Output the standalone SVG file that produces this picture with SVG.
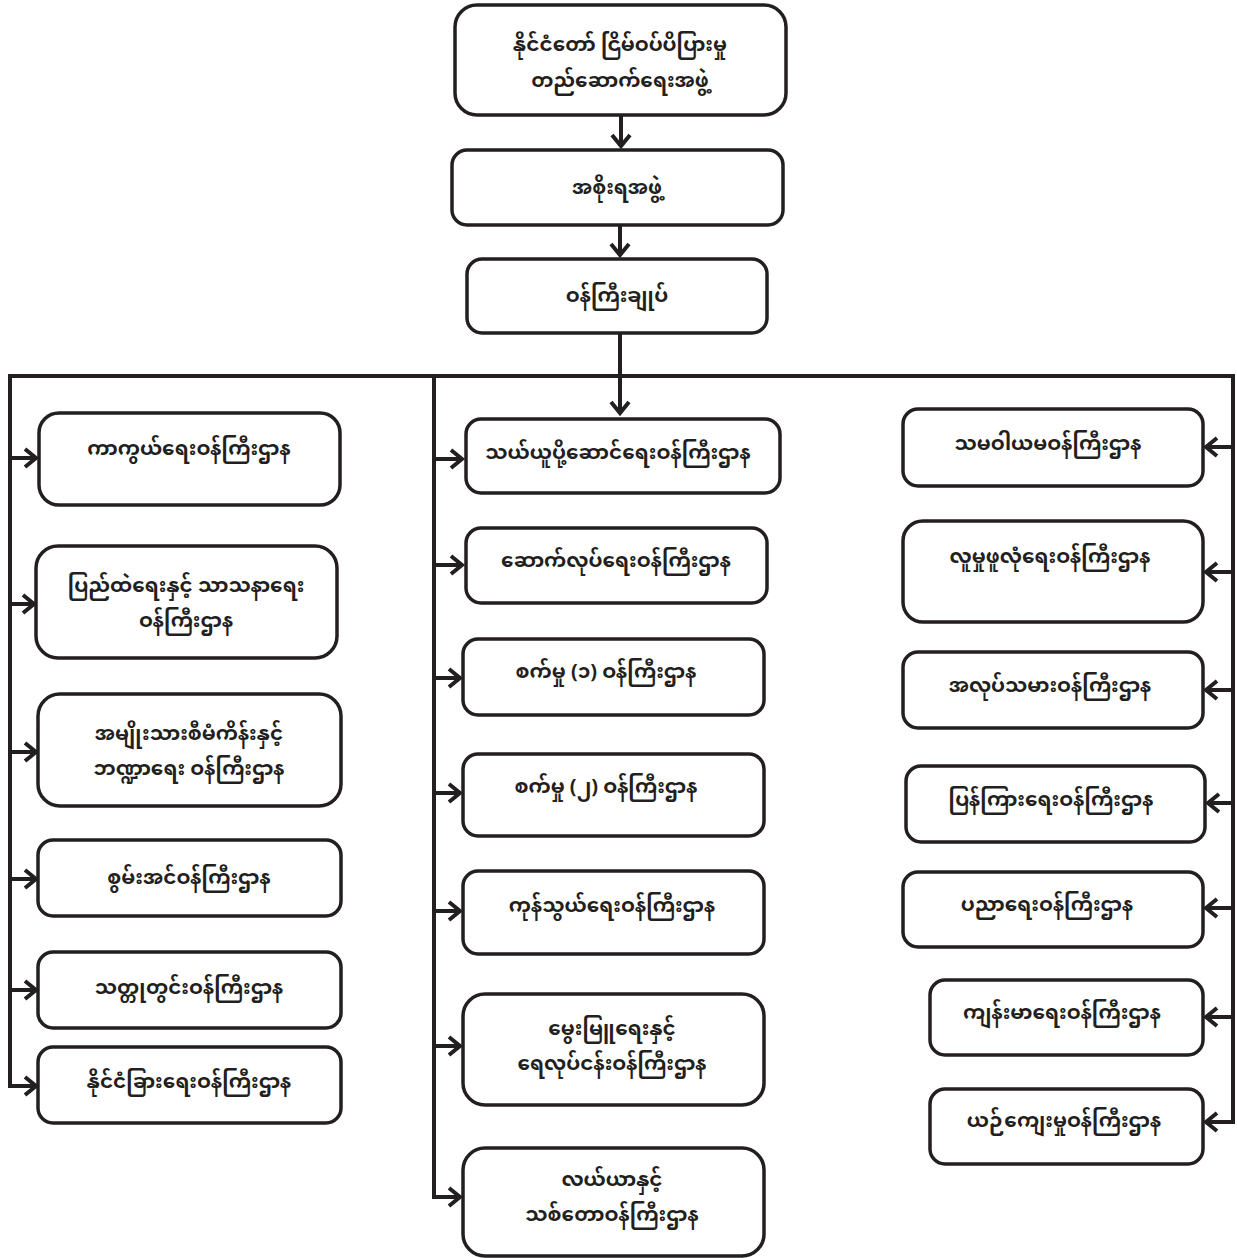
<svg xmlns="http://www.w3.org/2000/svg" width="1237" height="1258" viewBox="0 0 1237 1258">
<style>
.box{fill:#fff;stroke:#231f20;stroke-width:3.5}
.t{font-family:"Noto Sans Myanmar","Padauk","Myanmar Text","Noto Sans",sans-serif;font-size:20px;font-weight:bold;fill:#231f20;text-anchor:middle;dominant-baseline:central}
.c{fill:none;stroke:#231f20;stroke-width:4}
</style>
<defs>
<marker id="a" markerUnits="userSpaceOnUse" markerWidth="18" markerHeight="22" refX="13" refY="11" orient="auto">
<path d="M2,2 L13,11 L2,20" fill="none" stroke="#231f20" stroke-width="4"/>
</marker>
</defs>
<g id="connectors">
<path class="c" d="M621,115 V146" marker-end="url(#a)"/>
<path class="c" d="M620,225 V255" marker-end="url(#a)"/>
<path class="c" d="M620,333 V413" marker-end="url(#a)"/>
<path class="c" d="M10,376 H1233"/>
<path class="c" d="M10,374 V1088"/>
<path class="c" d="M434,374 V1199"/>
<path class="c" d="M1233,374 V1124"/>
<path class="c" d="M10,458 H36" marker-end="url(#a)"/>
<path class="c" d="M10,604 H34" marker-end="url(#a)"/>
<path class="c" d="M10,752 H36" marker-end="url(#a)"/>
<path class="c" d="M10,879 H36" marker-end="url(#a)"/>
<path class="c" d="M10,990 H36" marker-end="url(#a)"/>
<path class="c" d="M8,1086 H36" marker-end="url(#a)"/>
<path class="c" d="M434,459 H462" marker-end="url(#a)"/>
<path class="c" d="M434,565 H462" marker-end="url(#a)"/>
<path class="c" d="M434,678 H460" marker-end="url(#a)"/>
<path class="c" d="M434,793 H460" marker-end="url(#a)"/>
<path class="c" d="M434,911 H460" marker-end="url(#a)"/>
<path class="c" d="M434,1046 H460" marker-end="url(#a)"/>
<path class="c" d="M432,1197 H460" marker-end="url(#a)"/>
<path class="c" d="M1233,447 H1206" marker-end="url(#a)"/>
<path class="c" d="M1233,572 H1206" marker-end="url(#a)"/>
<path class="c" d="M1233,690 H1206" marker-end="url(#a)"/>
<path class="c" d="M1233,803 H1208" marker-end="url(#a)"/>
<path class="c" d="M1233,908 H1206" marker-end="url(#a)"/>
<path class="c" d="M1233,1017 H1206" marker-end="url(#a)"/>
<path class="c" d="M1235,1122 H1206" marker-end="url(#a)"/>
</g>
<g id="n_council"><rect class="box" x="455" y="5" width="331" height="110" rx="22"/><text class="t" x="620" y="46">နိုင်ငံတော် ငြိမ်ဝပ်ပိပြားမှု</text><text class="t" x="620" y="82">တည်ဆောက်ရေးအဖွဲ့</text></g>
<g id="n_gov"><rect class="box" x="452" y="150" width="331" height="75" rx="15"/><text class="t" x="617" y="189">အစိုးရအဖွဲ့</text></g>
<g id="n_pm"><rect class="box" x="467" y="259" width="300" height="74" rx="15"/><text class="t" x="617" y="297">ဝန်ကြီးချုပ်</text></g>

<g id="n_defence"><rect class="box" x="39" y="413" width="301" height="92" rx="20"/><text class="t" x="189" y="450">ကာကွယ်ရေးဝန်ကြီးဌာန</text></g>
<g id="n_home"><rect class="box" x="36" y="546" width="301" height="112" rx="22"/><text class="t" x="186" y="587">ပြည်ထဲရေးနှင့် သာသနာရေး</text><text class="t" x="186" y="622">ဝန်ကြီးဌာန</text></g>
<g id="n_planning"><rect class="box" x="38" y="694" width="303" height="112" rx="22"/><text class="t" x="189" y="735">အမျိုးသားစီမံကိန်းနှင့်</text><text class="t" x="189" y="770">ဘဏ္ဍာရေး ဝန်ကြီးဌာန</text></g>
<g id="n_energy"><rect class="box" x="38" y="840" width="303" height="76" rx="15"/><text class="t" x="189" y="879">စွမ်းအင်ဝန်ကြီးဌာန</text></g>
<g id="n_mines"><rect class="box" x="38" y="952" width="303" height="76" rx="15"/><text class="t" x="189" y="989">သတ္တုတွင်းဝန်ကြီးဌာန</text></g>
<g id="n_foreign"><rect class="box" x="38" y="1047" width="303" height="76" rx="15"/><text class="t" x="189" y="1083">နိုင်ငံခြားရေးဝန်ကြီးဌာန</text></g>

<g id="n_transport"><rect class="box" x="466" y="419" width="314" height="74" rx="15"/><text class="t" x="618" y="454">သယ်ယူပို့ဆောင်ရေးဝန်ကြီးဌာန</text></g>
<g id="n_construction"><rect class="box" x="466" y="528" width="301" height="75" rx="15"/><text class="t" x="616" y="562">ဆောက်လုပ်ရေးဝန်ကြီးဌာန</text></g>
<g id="n_industry1"><rect class="box" x="463" y="639" width="301" height="76" rx="15"/><text class="t" x="606" y="673">စက်မှု (၁) ဝန်ကြီးဌာန</text></g>
<g id="n_industry2"><rect class="box" x="463" y="754" width="301" height="82" rx="15"/><text class="t" x="606" y="788">စက်မှု (၂) ဝန်ကြီးဌာန</text></g>
<g id="n_trade"><rect class="box" x="463" y="871" width="301" height="83" rx="15"/><text class="t" x="612" y="907">ကုန်သွယ်ရေးဝန်ကြီးဌာန</text></g>
<g id="n_livestock"><rect class="box" x="463" y="994" width="301" height="111" rx="22"/><text class="t" x="612" y="1030">မွေးမြူရေးနှင့်</text><text class="t" x="612" y="1065">ရေလုပ်ငန်းဝန်ကြီးဌာန</text></g>
<g id="n_agri"><rect class="box" x="463" y="1148" width="301" height="108" rx="22"/><text class="t" x="612" y="1181">လယ်ယာနှင့်</text><text class="t" x="612" y="1216">သစ်တောဝန်ကြီးဌာန</text></g>

<g id="n_coop"><rect class="box" x="903" y="409" width="300" height="77" rx="15"/><text class="t" x="1048" y="445">သမဝါယမဝန်ကြီးဌာန</text></g>
<g id="n_social"><rect class="box" x="903" y="521" width="300" height="101" rx="20"/><text class="t" x="1050" y="558">လူမှုဖူလုံရေးဝန်ကြီးဌာန</text></g>
<g id="n_labour"><rect class="box" x="903" y="652" width="300" height="76" rx="15"/><text class="t" x="1050" y="687">အလုပ်သမားဝန်ကြီးဌာန</text></g>
<g id="n_info"><rect class="box" x="906" y="766" width="299" height="76" rx="15"/><text class="t" x="1051" y="801">ပြန်ကြားရေးဝန်ကြီးဌာန</text></g>
<g id="n_education"><rect class="box" x="903" y="872" width="300" height="75" rx="15"/><text class="t" x="1047" y="906">ပညာရေးဝန်ကြီးဌာန</text></g>
<g id="n_health"><rect class="box" x="930" y="980" width="273" height="75" rx="15"/><text class="t" x="1062" y="1014">ကျန်းမာရေးဝန်ကြီးဌာန</text></g>
<g id="n_culture"><rect class="box" x="930" y="1089" width="273" height="75" rx="15"/><text class="t" x="1064" y="1122">ယဉ်ကျေးမှုဝန်ကြီးဌာန</text></g>
</svg>
